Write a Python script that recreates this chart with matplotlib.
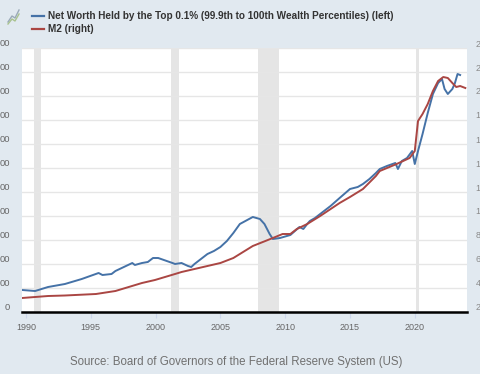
import matplotlib
matplotlib.use("Agg")
import matplotlib.pyplot as plt
from matplotlib.lines import Line2D
from matplotlib.transforms import ScaledTranslation
import numpy as np

plt.rcParams['font.family'] = ['Liberation Sans', 'DejaVu Sans']

# Net worth held by the top 0.1% (millions of dollars), left axis
top_years = [1989.7, 1990.7, 1991.7, 1993.0, 1994.3, 1995.6, 1995.9, 1996.6, 1996.9, 1998.2,
             1998.4, 1998.95, 1999.4, 1999.8, 2000.2, 2001.3, 2001.5, 2002.0, 2002.5, 2002.75,
             2003.0, 2003.5, 2004.0, 2004.5, 2005.0, 2005.5, 2006.0, 2006.5, 2007.5, 2008.05,
             2008.4, 2008.8, 2009.05, 2009.6, 2010.4, 2010.75, 2011.1, 2011.4, 2011.7, 2011.9,
             2012.3, 2012.7, 2013.5, 2014.2, 2015.0, 2015.6, 2016.0, 2016.5, 2017.0, 2017.3,
             2017.85, 2018.5, 2018.7, 2019.0, 2019.4, 2019.8, 2020.0, 2020.25, 2020.6, 2021.0,
             2021.4, 2021.8, 2022.1, 2022.3, 2022.55, 2022.9, 2023.1, 2023.3, 2023.5]
top_values = [1833000, 1750000, 2083000, 2333000, 2750000, 3250000, 3083000, 3167000, 3417000, 4083000,
              3917000, 4083000, 4167000, 4500000, 4500000, 4083000, 4000000, 4083000, 3833000, 3750000,
              4000000, 4417000, 4833000, 5083000, 5417000, 5917000, 6583000, 7333000, 7917000, 7750000,
              7333000, 6500000, 6083000, 6167000, 6417000, 6750000, 7083000, 6917000, 7333000, 7583000,
              7833000, 8167000, 8833000, 9500000, 10250000, 10417000, 10667000, 11083000, 11583000, 11917000,
              12167000, 12417000, 11917000, 12583000, 12833000, 13417000, 12333000, 13417000, 14833000, 16583000,
              18167000, 19083000, 19417000, 18583000, 18167000, 18583000, 19083000, 19833000, 19750000]

# M2 (billions of dollars), right axis
m2_years = [1989.7, 1991.7, 1993.0, 1995.4, 1996.9, 1998.95, 1999.95, 2001.5, 2002.0, 2003.0,
            2004.0, 2005.0, 2006.0, 2006.5, 2007.5, 2009.05, 2009.8, 2010.4, 2010.9, 2011.7,
            2012.7, 2014.2, 2015.0, 2016.0, 2017.0, 2017.3, 2018.6, 2019.6, 2020.0, 2020.25,
            2020.6, 2021.0, 2021.4, 2021.8, 2022.2, 2022.55, 2022.9, 2023.2, 2023.5, 2023.9]
m2_values = [3167, 3333, 3375, 3500, 3750, 4417, 4667, 5167, 5333, 5583,
             5833, 6083, 6500, 6833, 7500, 8167, 8500, 8500, 8917, 9333,
             10000, 11083, 11583, 12250, 13333, 13750, 14333, 14833, 15417, 17917,
             18500, 19333, 20417, 21250, 21583, 21500, 21083, 20750, 20833, 20667]

recessions = [(1990.58, 1991.17), (2001.17, 2001.83), (2007.92, 2009.5), (2020.08, 2020.33)]

x_ticks = [1990, 1995, 2000, 2005, 2010, 2015, 2020]
left_ticks = list(range(0, 22000001, 2000000))
right_ticks = list(range(2000, 24001, 2000))
# tick labels as far as the (cropped) reference shows them
left_labels = ["0"] + ["00"] * 11
right_labels = ["2", "4", "6", "8", "1", "1", "1", "1", "1", "2", "2", "2"]

BG = '#E1E9F0'
BLUE = '#4572A7'
RED = '#AA4643'

W, H = 480, 374
fig = plt.figure(figsize=(W / 100, H / 100), dpi=100, facecolor=BG)
ax = fig.add_axes([22 / W, 1 - 312 / H, 445 / W, 264 / H])
ax.set_facecolor('white')
ax2 = ax.twinx()

for a, b in recessions:
    ax.axvspan(a, b, color='#e5e5e5', lw=0, zorder=0.5)

ax.set_xlim(1989.69, 2024.03)
ax.set_ylim(0, 22000000)
ax2.set_ylim(2000, 24000)

ax.set_yticks(left_ticks)
ax.set_yticklabels(left_labels)
ax2.set_yticks(right_ticks)
ax2.set_yticklabels(right_labels)
ax.set_xticks(x_ticks)
ax.set_xticklabels([str(t) for t in x_ticks])

ax.grid(axis='y', color='#e6e6e6', lw=1, zorder=0.6)
ax.set_axisbelow(True)

for s in ['top', 'left', 'right']:
    ax.spines[s].set_visible(False)
    ax2.spines[s].set_visible(False)
ax2.spines['bottom'].set_visible(False)
ax.spines['bottom'].set_color('black')
ax.spines['bottom'].set_linewidth(1.8)

ax.tick_params(axis='y', length=0, pad=8.6, labelsize=6.8, labelcolor='#666666')
ax2.tick_params(axis='y', length=0, pad=6.0, labelsize=6.5, labelcolor='#8a8a8a')
ax.tick_params(axis='x', length=4, width=0.8, color='#ccd6eb', pad=4, labelsize=6.5, labelcolor='#666666')

up = ScaledTranslation(0, 5 / 100, fig.dpi_scale_trans)
for lab in ax.get_yticklabels() + ax2.get_yticklabels():
    lab.set_transform(lab.get_transform() + up)

ax.plot(top_years, top_values, color=BLUE, lw=1.4, zorder=3)
ax2.plot(m2_years, m2_values, color=RED, lw=1.4, zorder=2)

# legend
fig.add_artist(Line2D([32 / W, 44 / W], [1 - 16 / H, 1 - 16 / H], color=BLUE, lw=1.6))
fig.add_artist(Line2D([32 / W, 44 / W], [1 - 29 / H, 1 - 29 / H], color=RED, lw=1.6))
fig.text(48 / W, 1 - 16 / H, "Net Worth Held by the Top 0.1% (99.9th to 100th Wealth Percentiles) (left)",
         fontsize=7.2, fontweight='bold', color='#333333', va='center', ha='left')
fig.text(48 / W, 1 - 29 / H, "M2 (right)",
         fontsize=7.2, fontweight='bold', color='#333333', va='center', ha='left')

# small chart icon
fig.add_artist(Line2D(np.array([8, 12, 15, 19]) / W, 1 - np.array([22, 16, 18, 10]) / H, color='#9aaab8', lw=1))
fig.add_artist(Line2D(np.array([8, 12, 15, 19]) / W, 1 - np.array([24, 19, 21, 14]) / H, color='#a9c28f', lw=1))

fig.text(236 / W, 1 - 362 / H, "Source: Board of Governors of the Federal Reserve System (US)",
         fontsize=8.3, color='#707070', ha='center', va='center')

fig.savefig('out.png', dpi=100, facecolor=BG)
